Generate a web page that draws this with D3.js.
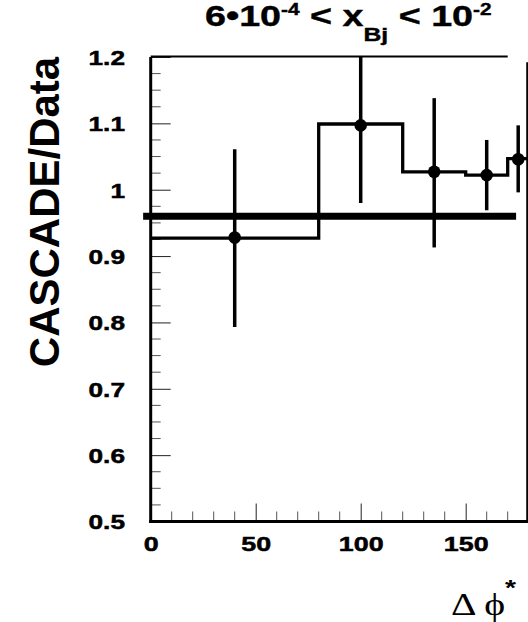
<!DOCTYPE html>
<html>
<head>
<meta charset="utf-8">
<script src="https://cdn.jsdelivr.net/npm/d3@7"></script>
<style>
  body { margin: 0; background: #fff; }
  svg { display: block; font-family: "Liberation Sans", Arial, Helvetica, sans-serif; }
</style>
</head>
<body>
<svg width="528" height="622"></svg>
<script>
// bin edges of the CASCADE/Data histogram and its heights
var binEdges = [0, 80, 120, 150, 170, 180];
var binValues = [0.927, 1.099, 1.027, 1.022, 1.047];

// data points with error bars
var pointX = [40, 100, 135, 160, 175];
var pointY = [0.928, 1.097, 1.027, 1.022, 1.046];
var errLow = [0.793, 0.980, 0.913, 0.969, 0.996];
var errHigh = [1.061, 1.200, 1.138, 1.075, 1.097];

// normalisation line
var normValue = 0.96;
var normRange = [-3.6, 174];

var xMajor = [0, 50, 100, 150];
var yMajor = [0.5, 0.6, 0.7, 0.8, 0.9, 1.0, 1.1, 1.2];
var yTickLabels = ["0.5", "0.6", "0.7", "0.8", "0.9", "1", "1.1", "1.2"];

var margin = {left: 150.7, top: 57, bottom: 521.5, right: 528.7};
var stretch = 1.28; // glyphs in the picture are drawn wide

var svg = d3.select("svg");

var xScale = d3.scaleLinear().domain([0, 180]).range([margin.left, margin.right]);
var yScale = d3.scaleLinear().domain([0.5, 1.2]).range([margin.bottom, margin.top]);

// minor ticks
var xMinor = d3.range(0, 181, 10).filter(function(d){ return d % 50 != 0; });
var yMinor = d3.range(0, 29).map(function(i){ return 0.5 + i * 0.025; })
               .filter(function(d, i){ return i % 4 != 0; });

svg.append("g").selectAll("line").data(xMinor).enter().append("line")
   .attr("x1", function(d){ return xScale(d); })
   .attr("x2", function(d){ return xScale(d); })
   .attr("y1", margin.bottom).attr("y2", margin.bottom - 10)
   .attr("stroke", "#555").attr("stroke-width", 1);

svg.append("g").selectAll("line").data(yMinor).enter().append("line")
   .attr("x1", margin.left).attr("x2", margin.left + 10)
   .attr("y1", function(d){ return yScale(d); })
   .attr("y2", function(d){ return yScale(d); })
   .attr("stroke", "#555").attr("stroke-width", 1);

// x axis
var xAxis = d3.axisBottom(xScale).tickValues(xMajor).tickFormat(d3.format("d"))
              .tickSizeInner(-18).tickSizeOuter(0).tickPadding(15);
var gx = svg.append("g").attr("transform", "translate(0," + margin.bottom + ")").call(xAxis);
gx.select(".domain").remove();
gx.selectAll(".tick line").attr("stroke", "#222").attr("stroke-width", 1);
gx.selectAll(".tick text")
  .attr("font-size", 21).attr("font-weight", "bold").attr("fill", "#000")
  .attr("stroke", "#000").attr("stroke-width", 0.5)
  .attr("transform", "scale(" + stretch + ",1)");

// y axis
var yAxis = d3.axisLeft(yScale).tickValues(yMajor)
              .tickFormat(function(d, i){ return yTickLabels[i]; })
              .tickSizeInner(-20).tickSizeOuter(0).tickPadding(0);
var gy = svg.append("g").attr("transform", "translate(" + margin.left + ",0)").call(yAxis);
gy.select(".domain").remove();
gy.selectAll(".tick line").attr("stroke", "#222").attr("stroke-width", 1);
gy.selectAll(".tick text")
  .attr("x", 0).attr("dy", "0.36em")
  .attr("font-size", 20.5).attr("font-weight", "bold").attr("fill", "#000")
  .attr("stroke", "#000").attr("stroke-width", 0.5)
  .attr("transform", "translate(-25.7,0) scale(" + stretch + ",1)");

// frame lines
svg.append("line").attr("x1", margin.left).attr("x2", margin.left)
   .attr("y1", yScale(1.2)).attr("y2", margin.bottom + 1.5)
   .attr("stroke", "#000").attr("stroke-width", 3);
svg.append("line").attr("x1", margin.left - 1.5).attr("x2", 528)
   .attr("y1", margin.bottom).attr("y2", margin.bottom)
   .attr("stroke", "#000").attr("stroke-width", 3);
svg.append("line").attr("x1", xScale(0)).attr("x2", xScale(170))
   .attr("y1", yScale(1.2) - 0.5).attr("y2", yScale(1.2) - 0.5)
   .attr("stroke", "#000").attr("stroke-width", 2);
svg.append("line").attr("x1", xScale(179.3)).attr("x2", xScale(179.3))
   .attr("y1", yScale(1.192)).attr("y2", margin.bottom)
   .attr("stroke", "#000").attr("stroke-width", 2);

// normalisation line
svg.append("line")
   .attr("x1", xScale(normRange[0])).attr("x2", xScale(normRange[1]))
   .attr("y1", yScale(normValue)).attr("y2", yScale(normValue))
   .attr("stroke", "#000").attr("stroke-width", 7);

// histogram
var histPoints = binEdges.map(function(e, i){
    return [e, binValues[Math.min(i, binValues.length - 1)]];
});
var line = d3.line()
    .x(function(d){ return xScale(d[0]); })
    .y(function(d){ return yScale(d[1]); })
    .curve(d3.curveStepAfter);
svg.append("path").datum(histPoints)
   .attr("d", line)
   .attr("fill", "none").attr("stroke", "#000").attr("stroke-width", 3.3);

// error bars and points
var pts = pointX.map(function(x, i){
    return {x: x, y: pointY[i], lo: errLow[i], hi: errHigh[i]};
});
svg.append("g").selectAll("line").data(pts).enter().append("line")
   .attr("x1", function(d){ return xScale(d.x); })
   .attr("x2", function(d){ return xScale(d.x); })
   .attr("y1", function(d){ return yScale(d.lo); })
   .attr("y2", function(d){ return yScale(d.hi); })
   .attr("stroke", "#000").attr("stroke-width", 3.5);
svg.append("g").selectAll("circle").data(pts).enter().append("circle")
   .attr("cx", function(d){ return xScale(d.x); })
   .attr("cy", function(d){ return yScale(d.y); })
   .attr("r", 6.3).attr("fill", "#000");

// title
var title = svg.append("text")
   .attr("transform", "translate(205,26) scale(1.3,1)")
   .attr("font-size", 29).attr("font-weight", "bold").attr("fill", "#000")
   .attr("stroke", "#000").attr("stroke-width", 0.4);
title.append("tspan").text("6\u202210");
title.append("tspan").attr("font-size", 16).attr("dy", -11.5).text("-4");
title.append("tspan").attr("dy", 11.5).text(" < x");
title.append("tspan").attr("font-size", 19).attr("dy", 15).text("Bj");
title.append("tspan").attr("dy", -15).text(" < 10");
title.append("tspan").attr("font-size", 16).attr("dy", -11.5).text("-2");

// y axis title
svg.append("text")
   .attr("transform", "translate(59,212) rotate(-90)")
   .attr("text-anchor", "middle")
   .attr("font-size", 42).attr("font-weight", "bold").attr("fill", "#000")
   .text("CASCADE/Data");

// x axis title
var xt = svg.append("text")
   .attr("transform", "translate(451,615) scale(" + stretch + ",1)")
   .attr("font-family", "'Liberation Serif', 'Times New Roman', serif")
   .attr("font-size", 31).attr("fill", "#000");
xt.append("tspan").text("\u0394 \u03D5");
xt.append("tspan").attr("font-family", "'Liberation Sans', Arial, sans-serif")
  .attr("font-weight", "bold").attr("font-size", 22).attr("dx", 0).attr("dy", -20).text("*");
</script>
</body>
</html>
